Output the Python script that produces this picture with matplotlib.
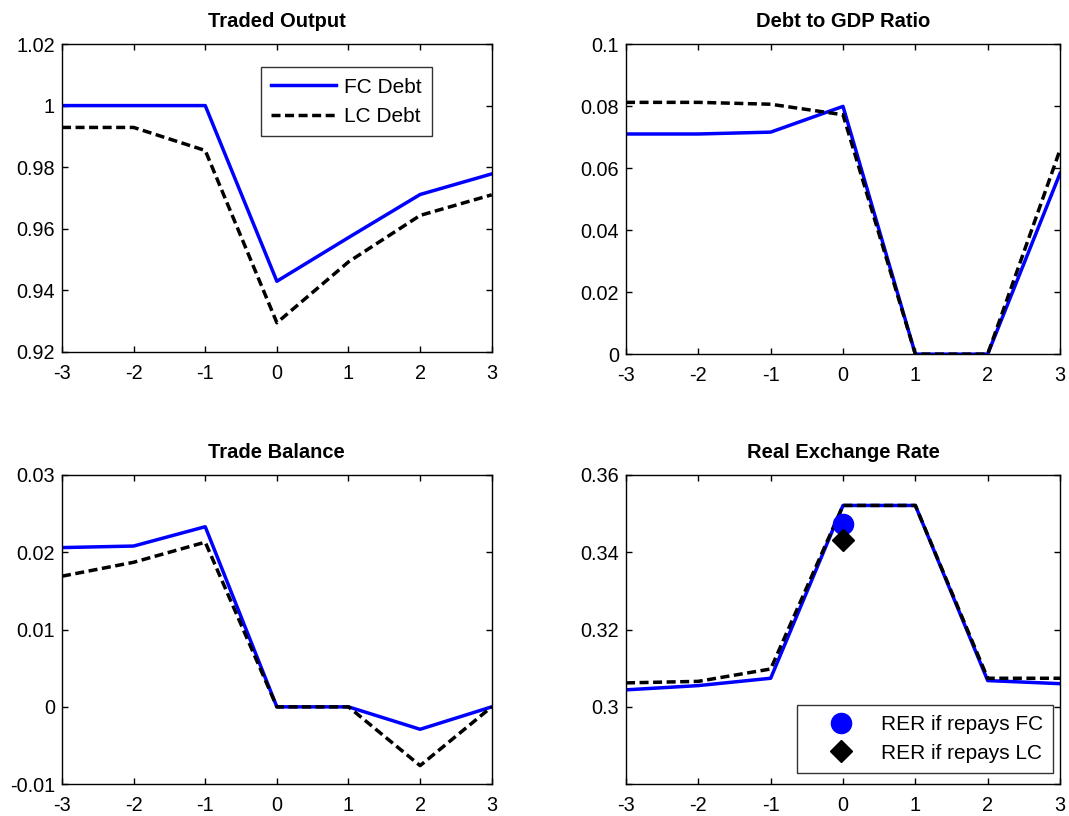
import matplotlib
matplotlib.use("Agg")
import matplotlib.pyplot as plt

plt.rcParams["font.family"] = ["Liberation Sans", "DejaVu Sans"]

periods = [-3, -2, -1, 0, 1, 2, 3]

traded_fc = [1.0, 1.0, 1.0, 0.9429, 0.9571, 0.9711, 0.9778]
traded_lc = [0.9929, 0.9929, 0.9854, 0.9294, 0.9492, 0.9643, 0.9710]

debt_fc = [0.0710, 0.0710, 0.0716, 0.0799, 0.0, 0.0, 0.0583]
debt_lc = [0.0812, 0.0812, 0.0806, 0.0772, 0.0, 0.0, 0.0659]

tb_fc = [0.0206, 0.0208, 0.0233, 0.0, 0.0, -0.0029, 0.0]
tb_lc = [0.0169, 0.0187, 0.0213, 0.0, 0.0, -0.0076, 0.0]

rer_fc = [0.3044, 0.3055, 0.3074, 0.3521, 0.3521, 0.3068, 0.3060]
rer_lc = [0.3062, 0.3066, 0.3098, 0.3521, 0.3521, 0.3074, 0.3074]
rer_repay_fc = 0.3474
rer_repay_lc = 0.3432

BLUE = "#0000ff"


def style_axes(ax, title, ylim, yticks, yticklabels):
    ax.set_xlim(-3, 3)
    ax.set_ylim(*ylim)
    ax.set_xticks(periods)
    ax.set_xticklabels([str(p) for p in periods])
    ax.set_yticks(yticks)
    ax.set_yticklabels(yticklabels)
    ax.tick_params(direction="in", top=True, right=True, length=4, width=1,
                   labelsize=14.3)
    ax.tick_params(axis="x", pad=8.5)
    ax.tick_params(axis="y", pad=5)
    for s in ax.spines.values():
        s.set_linewidth(1.0)
    ax.set_title(title, fontsize=14.5, fontweight="bold", pad=12.5)


def plot_pair(ax, fc, lc):
    ax.plot(periods, fc, color=BLUE, linewidth=2.5, label="FC Debt")
    ax.plot(periods, lc, color="black", linewidth=2.5, linestyle=(0, (2.6, 1.3)), label="LC Debt")


fig = plt.figure(figsize=(10.69, 8.16), dpi=100)

ax1 = fig.add_axes([0.058, 0.569, 0.402, 0.377])
ax2 = fig.add_axes([0.5856, 0.566, 0.406, 0.380])
ax3 = fig.add_axes([0.058, 0.039, 0.402, 0.379])
ax4 = fig.add_axes([0.5856, 0.039, 0.406, 0.379])

plot_pair(ax1, traded_fc, traded_lc)
style_axes(ax1, "Traded Output", (0.92, 1.02),
           [0.92, 0.94, 0.96, 0.98, 1.0, 1.02],
           ["0.92", "0.94", "0.96", "0.98", "1", "1.02"])
leg = ax1.legend(loc="upper left", bbox_to_anchor=(0.463, 0.925), fontsize=15,
                 frameon=True, fancybox=False, edgecolor="black",
                 handlelength=3.1, borderpad=0.5, labelspacing=0.5, handletextpad=0.4,
                 borderaxespad=0)
leg.get_frame().set_linewidth(1.0)

plot_pair(ax2, debt_fc, debt_lc)
style_axes(ax2, "Debt to GDP Ratio", (0, 0.1),
           [0, 0.02, 0.04, 0.06, 0.08, 0.1],
           ["0", "0.02", "0.04", "0.06", "0.08", "0.1"])

plot_pair(ax3, tb_fc, tb_lc)
style_axes(ax3, "Trade Balance", (-0.01, 0.03),
           [-0.01, 0, 0.01, 0.02, 0.03],
           ["-0.01", "0", "0.01", "0.02", "0.03"])

plot_pair(ax4, rer_fc, rer_lc)
m1, = ax4.plot([0], [rer_repay_fc], "o", color=BLUE, markersize=14.5, linestyle="none",
               label="RER if repays FC")
m2, = ax4.plot([0], [rer_repay_lc], "D", color="black", markersize=11, linestyle="none",
               label="RER if repays LC")
style_axes(ax4, "Real Exchange Rate", (0.28, 0.36),
           [0.28, 0.3, 0.32, 0.34, 0.36],
           ["", "0.3", "0.32", "0.34", "0.36"])
leg2 = ax4.legend(handles=[m1, m2], loc="lower right", bbox_to_anchor=(0.984, 0.036),
                  fontsize=15, frameon=True, fancybox=False, edgecolor="black",
                  handlelength=3.2, borderpad=0.5, labelspacing=0.45, handletextpad=0.3,
                  borderaxespad=0)
leg2.get_frame().set_linewidth(1.0)

fig.savefig("out.png", dpi=100)
